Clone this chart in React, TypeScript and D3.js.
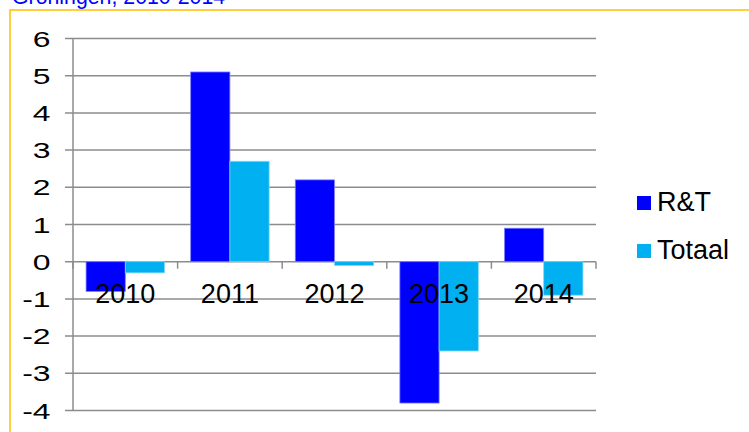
import React from "react";
import * as d3 from "d3";

const categories = ["2010", "2011", "2012", "2013", "2014"];
const seriesNames = ["R&T", "Totaal"];
const rtValues = [-0.8, 5.1, 2.2, -3.8, 0.9];
const totaalValues = [-0.3, 2.7, -0.1, -2.4, -0.9];
const yTicks = [6, 5, 4, 3, 2, 1, 0, -1, -2, -3, -4];
const title = "Groningen, 2010-2014";

const colors = ["#0000FF", "#00B0F0"];
const strokes = ["#7f7fff", "#7fd7f7"];
const font = "'Liberation Sans', Arial, sans-serif";

export default function App() {
  const W = 749;
  const H = 432;
  const left = 73;
  const right = 596;
  const y = d3.scaleLinear().domain([-4, 6]).range([410.5, 38.5]);
  const x = d3
    .scaleBand<string>()
    .domain(categories)
    .range([left, right])
    .paddingInner(0.25)
    .paddingOuter(0.125);
  const inner = d3.scaleBand<string>().domain(seriesNames).range([0, x.bandwidth()]);
  const step = x.step();
  const y0 = y(0);
  const series = [rtValues, totaalValues];

  return (
    <svg
      width={W}
      height={H}
      style={{ position: "fixed", left: 0, top: 0, background: "#fff" }}
    >
      <rect x={0} y={0} width={W} height={H} fill="#fff" />
      <text x={12} y={4} fill="#0000FF" fontFamily={font} fontSize={21.3}>
        {title}
      </text>
      <rect
        x={10}
        y={10}
        width={W + 20}
        height={H + 20}
        fill="none"
        stroke="#FFC000"
        strokeWidth={1.5}
      />
      {/* gridlines */}
      {yTicks.map((t) => (
        <line
          key={"g" + t}
          x1={left - 8}
          x2={right}
          y1={y(t)}
          y2={y(t)}
          stroke="#8c8c8c"
          strokeWidth={1.5}
        />
      ))}
      {/* bars */}
      {series.map((vals, si) =>
        vals.map((v, i) => {
          const bx = (x(categories[i]) as number) + (inner(seriesNames[si]) as number);
          const top = Math.min(y(v), y0);
          const h = Math.abs(y(v) - y0);
          return (
            <rect
              key={si + "-" + i}
              x={bx}
              y={top}
              width={inner.bandwidth()}
              height={h}
              fill={colors[si]}
              stroke={strokes[si]}
              strokeWidth={0.8}
            />
          );
        })
      )}
      {/* y axis */}
      <line x1={left} x2={left} y1={y(6)} y2={y(-4)} stroke="#8c8c8c" strokeWidth={1.5} />
      {/* x axis ticks */}
      {d3.range(categories.length + 1).map((i) => (
        <line
          key={"xt" + i}
          x1={left + i * step}
          x2={left + i * step}
          y1={y0}
          y2={y0 + 7}
          stroke="#8c8c8c"
          strokeWidth={1.5}
        />
      ))}
      {/* y labels (horizontally stretched as in the reference) */}
      {yTicks.map((t) => (
        <text
          key={"yl" + t}
          transform={`translate(50.5, ${y(t) + 8}) scale(1.45, 1)`}
          x={0}
          y={0}
          textAnchor="end"
          fontFamily={font}
          fontSize={22}
          fill="#000"
        >
          {t < 0 ? "-" + Math.abs(t) : String(t)}
        </text>
      ))}
      {/* x labels */}
      {categories.map((c) => (
        <text
          key={"xl" + c}
          x={(x(c) as number) + x.bandwidth() / 2}
          y={302.5}
          textAnchor="middle"
          fontFamily={font}
          fontSize={27}
          fill="#000"
        >
          {c}
        </text>
      ))}
      {/* legend */}
      {seriesNames.map((s, i) => (
        <g key={"lg" + s} transform={`translate(637, ${196 + i * 48})`}>
          <rect x={0} y={0} width={14} height={14} fill={colors[i]} />
          <text x={20} y={14.5} fontFamily={font} fontSize={27} fill="#000">
            {s}
          </text>
        </g>
      ))}
    </svg>
  );
}
